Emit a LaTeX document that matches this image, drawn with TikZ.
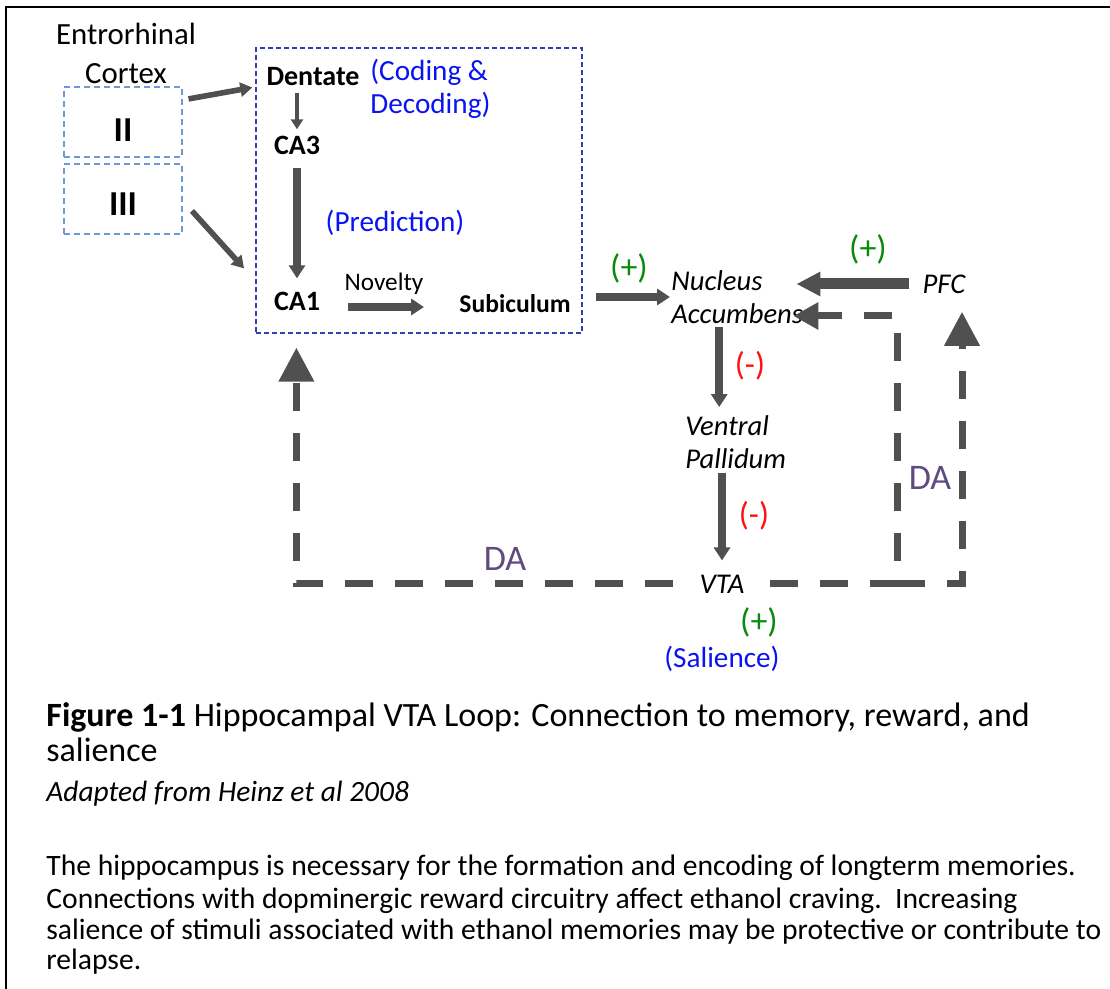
\documentclass[tikz,border=0pt]{standalone}
\usepackage{fontspec}
\setmainfont{Carlito}
\usepackage{xcolor}
\usetikzlibrary{arrows.meta,positioning}
\definecolor{arrowgray}{HTML}{505050}
\definecolor{roleblue}{HTML}{0A14F0}
\definecolor{plusgreen}{HTML}{0A8A0A}
\definecolor{minusred}{HTML}{FF1010}
\definecolor{dapurple}{HTML}{5F4B7F}
\definecolor{hippoblue}{HTML}{3040B0}
\definecolor{cortexblue}{HTML}{6E9AD4}
\tikzset{
  frame/.style={line width=1.3pt,black},
  thinarrow/.style={-{Triangle[length=5pt,width=6pt]},line width=2pt,arrowgray},
  midarrow/.style={-{Triangle[length=6pt,width=7pt]},line width=2.8pt,arrowgray},
  thickarrow/.style={-{Triangle[length=6.5pt,width=8pt]},line width=4pt,arrowgray},
  heavyarrow/.style={-{Triangle[length=12pt,width=11.5pt]},line width=5.5pt,arrowgray},
  daline/.style={line width=3.5pt,arrowgray,dash pattern=on 14pt off 11pt},
  datip/.style={-{Triangle[length=17pt,width=17pt]}},
  datipsmall/.style={-{Triangle[length=12.5pt,width=13pt]}},
  lbl/.style={inner sep=0pt,font=\fontsize{14}{16.5}\selectfont},
  region/.style={inner sep=0pt,font=\bfseries\fontsize{14}{16.5}\selectfont},
  nucleus/.style={inner sep=0pt,align=left,font=\itshape\fontsize{14.3}{16.5}\selectfont},
  role/.style={inner sep=0pt,align=left,text=roleblue,font=\fontsize{14.6}{16.5}\selectfont},
  plus/.style={inner sep=0pt,text=plusgreen,font=\fontsize{17}{20}\selectfont},
  minus/.style={inner sep=0pt,text=minusred,font=\fontsize{16.5}{20}\selectfont},
  da/.style={inner sep=0pt,text=dapurple,font=\fontsize{18}{20}\selectfont},
  cortexbox/.style={draw=cortexblue,line width=0.6pt,dash pattern=on 3pt off 2pt,
    minimum width=59pt,minimum height=35pt,font=\bfseries\fontsize{17.5}{20}\selectfont},
  hippobox/.style={draw=hippoblue,line width=0.6pt,dash pattern=on 2.5pt off 1.5pt,
    minimum width=163pt,minimum height=142.5pt},
  caption/.style={inner sep=0pt,anchor=base west,font=\fontsize{17}{20}\selectfont},
  bodytext/.style={inner sep=0pt,anchor=base west,font=\fontsize{14.8}{16}\selectfont}
}
\begin{document}
\begin{tikzpicture}[x=0.5pt,y=-0.5pt]
  \useasboundingbox (0,0) rectangle (1110,989);
  \draw[frame] (6,989) -- (6,7) -- (1110,7);

  \node[lbl,align=center,font=\fontsize{15.4}{19.5}\selectfont] (ento) at (126,53) {Entrorhinal\\Cortex};
  \node[cortexbox,text height=20pt] (ec2) at (123,122) {II};
  \node[cortexbox,text height=17pt] (ec3) at (123,199) {III};

  \node[hippobox] (hippo) at (419,190.5) {};
  \node[region] (dentate) at (313,77) {Dentate};
  \node[role,anchor=west] (coding) at (370,89) {(Coding \&\\Decoding)};
  \node[region] (ca3) at (297,145) {CA3};
  \node[role] (predict) at (395,223) {(Prediction)};
  \node[region] (ca1) at (297,301) {CA1};
  \node[lbl,font=\fontsize{12.6}{14}\selectfont] (novelty) at (384,284) {Novelty};
  \node[region,font=\bfseries\fontsize{12.8}{14}\selectfont] (subic) at (515,304) {Subiculum};

  \node[nucleus,anchor=west] (nacc) at (671,297) {Nucleus\\Accumbens};
  \node[nucleus] (pfc) at (944,284) {PFC};
  \node[nucleus,anchor=west] (vp) at (685,442) {Ventral\\Pallidum};
  \node[nucleus] (vta) at (722,584) {VTA};

  \draw[midarrow,shorten <=3pt,shorten >=7pt] ([yshift=11pt]ec2.east) -- ([yshift=-4pt]dentate.west);
  \draw[midarrow,shorten <=4pt,shorten >=22pt] ([xshift=2pt,yshift=-3pt]ec3.east) -- (ca1.west);
  \draw[thinarrow,shorten <=3pt,shorten >=3pt] (dentate.south -| ca3.north) -- (ca3.north);
  \draw[thickarrow,shorten <=6.5pt,shorten >=6.5pt] (ca3.south) -- (ca1.north);
  \draw[thickarrow,shorten <=14pt,shorten >=17.5pt] ([yshift=-3pt]ca1.east) -- ([yshift=-3pt]ca1.east -| subic.west);

  \draw[thickarrow,shorten <=6.5pt,shorten >=0.5pt] (hippo.east |- nacc.west) -- (nacc.west);
  \draw[heavyarrow,shorten <=6.5pt,shorten >=-3.5pt] (pfc.west) -- (pfc.west -| nacc.east);
  \draw[thickarrow,shorten <=1.5pt,shorten >=4pt] ([xshift=-9pt]nacc.south) -- ([xshift=-9pt]nacc.south |- vp.north);
  \draw[thickarrow,shorten <=2pt,shorten >=7pt] (vta.north |- vp.south) -- (vta.north);

  \coordinate (daleft) at ([xshift=20.5pt]hippo.south west);
  \coordinate (dacorner) at (897,316);
  \draw[daline,datip,shorten <=13pt,shorten >=7pt] (vta.west) -| (daleft);
  \draw[daline,datipsmall,shorten <=12.5pt,shorten >=-5pt] (vta.east) -| (dacorner) -- (dacorner -| nacc.east);
  \draw[daline,datip,shorten >=9pt] (dacorner |- vta.east) -| ([xshift=9pt]pfc.south);

  \node[plus] (plussub) at (629,268) {(+)};
  \node[plus] (pluspfc) at (868,249) {(+)};
  \node[minus] (minusvp) at (750,366) {(-)};
  \node[minus] (minusvta) at (754,516) {(-)};
  \node[plus] (plusvta) at (759,622) {(+)};
  \node[role] (salience) at (722,659) {(Salience)};
  \node[da] (dahippo) at (505,559) {DA};
  \node[da] (dapfc) at (930,478) {DA};

  \node[caption] (fig) at (46,727) {\textbf{Figure 1-1} Hippocampal VTA Loop: Connection to memory, reward, and};
  \node[caption] (fig2) at (46,762) {salience};
  \node[caption,font=\itshape\fontsize{14.7}{16}\selectfont] (adapted) at (46,802) {Adapted from Heinz et al 2008};
  \node[bodytext] (body1) at (46,876) {The hippocampus is necessary for the formation and encoding of longterm memories.};
  \node[bodytext] (body2) at (46,908) {Connections with dopminergic reward circuitry affect ethanol craving.\ \ Increasing};
  \node[bodytext] (body3) at (46,940) {salience of stimuli associated with ethanol memories may be protective or contribute to};
  \node[bodytext] (body4) at (46,970) {relapse.};
\end{tikzpicture}
\end{document}
